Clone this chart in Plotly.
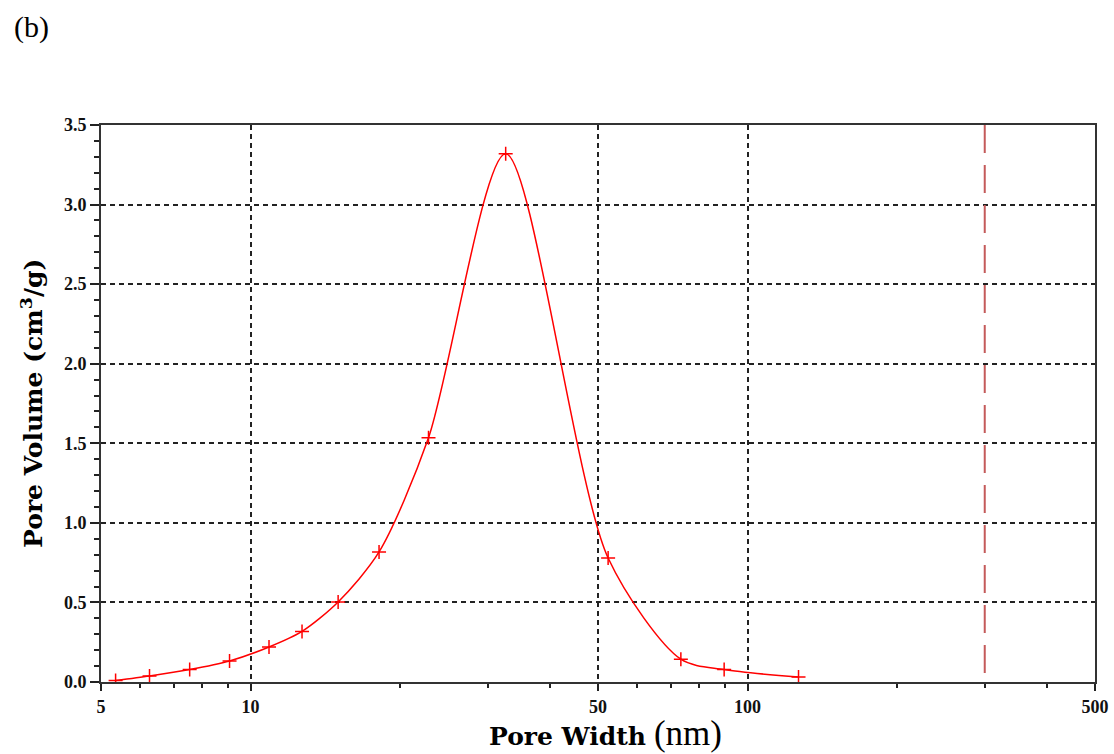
import math
import plotly.graph_objects as go

# Data
pore_width_nm = [5.35, 6.26, 7.54, 9.07, 10.89, 12.69, 15.0, 18.13, 22.8, 32.6, 52.4, 73.4, 89.7, 126.6]
pore_volume = [0.01, 0.038, 0.078, 0.132, 0.22, 0.318, 0.503, 0.817, 1.535, 3.32, 0.779, 0.143, 0.078, 0.031]
marker_line_x = 300
x_tick_vals = [5, 10, 50, 100, 500]
x_tick_text = ["5", "10", "50", "100", "500"]
x_minor_vals = [6, 7, 8, 9, 20, 30, 40, 60, 70, 80, 90, 200, 300, 400]
y_range = [0, 3.5]
x_range = [5, 500]

fig = go.Figure()

fig.add_trace(go.Scatter(
    x=[marker_line_x, marker_line_x], y=[y_range[1], y_range[0]], mode="lines",
    line=dict(color="#c45a5a", width=2, dash="28px,12px"),
    showlegend=False, hoverinfo="skip"))

fig.add_trace(go.Scatter(
    x=pore_width_nm, y=pore_volume, mode="lines+markers",
    line=dict(color="#ff0000", width=1.5, shape="spline", smoothing=0.8),
    marker=dict(symbol="cross-thin", size=10, line=dict(color="#ff0000", width=1.5)),
    showlegend=False))

tickfont = dict(family="Liberation Serif", size=18, color="#111", weight="bold")

fig.update_layout(
    width=1114, height=754,
    margin=dict(l=101, r=19, t=125, b=72, autoexpand=False),
    paper_bgcolor="white", plot_bgcolor="white",
    xaxis=dict(
        type="log", range=[math.log10(x_range[0]), math.log10(x_range[1])],
        tickmode="array", tickvals=x_tick_vals, ticktext=x_tick_text, automargin=False,
        tickfont=tickfont, ticks="outside", ticklen=7, tickwidth=1.5, tickcolor="#222",
        showline=True, linecolor="#333", linewidth=2, mirror=True,
        showgrid=True, gridcolor="#222", gridwidth=1.5, griddash="5px,4px",
        minor=dict(tickmode="array", tickvals=x_minor_vals, ticks="outside",
                   ticklen=4, tickwidth=1.5, tickcolor="#222", showgrid=False),
        zeroline=False,
    ),
    yaxis=dict(
        range=y_range, dtick=0.5, tick0=0, tickformat=".1f", automargin=False,
        tickfont=tickfont, ticks="outside", ticklen=9, tickwidth=1.5, tickcolor="#222",
        showline=True, linecolor="#333", linewidth=2, mirror=True,
        showgrid=True, gridcolor="#222", gridwidth=1.5, griddash="5px,4px",
        minor=dict(dtick=0.1, ticks="outside", ticklen=5, tickwidth=1.5,
                   tickcolor="#222", showgrid=False),
        zeroline=False,
    ),
    annotations=[
        dict(text="(b)", xref="paper", yref="paper", x=-0.09, y=1.176,
             xanchor="left", yanchor="middle", showarrow=False,
             font=dict(family="Liberation Serif", size=30, color="#000")),
        dict(text="<b>Pore Volume (cm<sup>3</sup>/g)</b>", xref="paper", yref="paper",
             x=-0.069, y=0.5, xanchor="center", yanchor="middle", textangle=-90,
             showarrow=False,
             font=dict(family="DejaVu Serif", size=25, color="#000")),
        dict(text="<b>Pore Width</b> <span style='font-family:Liberation Serif;font-size:35px'>(nm)</span>",
             xref="paper", yref="paper", x=0.508, y=-0.092,
             xanchor="center", yanchor="middle", showarrow=False,
             font=dict(family="DejaVu Serif", size=25, color="#000")),
    ],
)

fig.write_html("out.html", config={"displayModeBar": False},
               post_script="document.body.style.margin='0';document.body.style.overflow='hidden';")
